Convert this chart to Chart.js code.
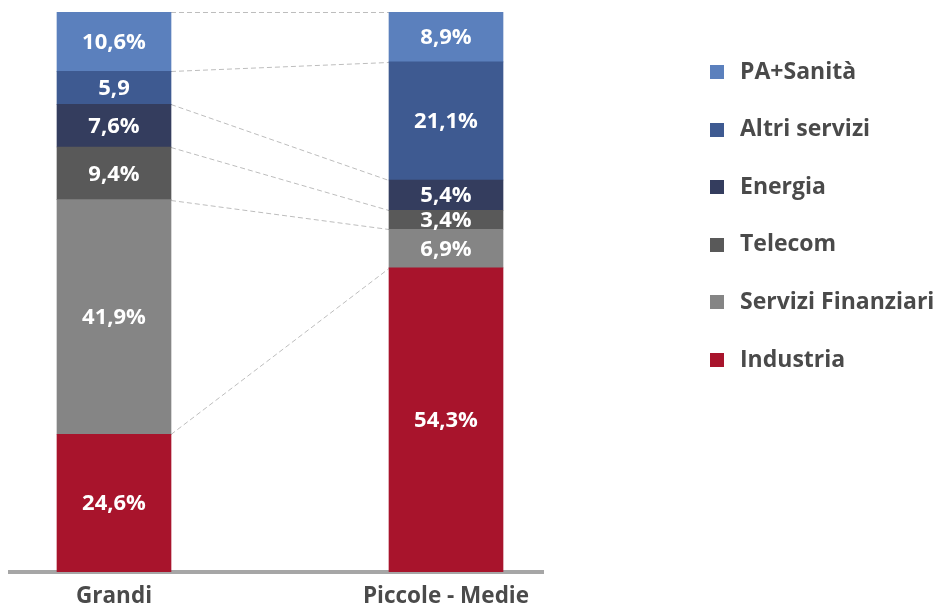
<!DOCTYPE html>
<html lang="it">
<head>
<meta charset="UTF-8">
<title>Settori per dimensione</title>
<script src="https://cdn.jsdelivr.net/npm/chart.js@4"></script>
<style>
  html, body { margin: 0; padding: 0; background: #fff; }
</style>
</head>
<body>
<canvas id="chart" width="936" height="608"></canvas>
<script>
const categories = ['Grandi', 'Piccole - Medie'];
const sectors = ['Industria', 'Servizi Finanziari', 'Telecom', 'Energia', 'Altri servizi', 'PA+Sanità'];
const grandi = [24.6, 41.9, 9.4, 7.6, 5.9, 10.6];
const piccoleMedie = [54.3, 6.9, 3.4, 5.4, 21.1, 8.9];
const colors = ['#a8142c', '#858585', '#595959', '#343d5e', '#3e5a91', '#5b80bd'];
// the source prints this one segment without the % sign: [dataset, bar]
const noPercent = [[4, 0]];

const FONT = '"Open Sans", sans-serif';
const TEXT = '#4a4a4a';

// legend geometry: swatch at x=710, text starting at x=740
const legendFont = 23, legendGap = 34.6, swatchSlot = 23;
const m = document.createElement('canvas').getContext('2d');
m.font = 'bold ' + legendFont + 'px ' + FONT;
const legendTextW = Math.max(...sectors.map(s => m.measureText(s).width));
const legendW = legendGap + swatchSlot + legendFont / 2 + legendTextW + 10;
const padRight = 936 - (740 - swatchSlot - legendFont / 2 - legendGap) - legendW;

function swatch(color) {
  const c = document.createElement('canvas');
  c.width = 14; c.height = 14;
  const g = c.getContext('2d');
  g.fillStyle = color;
  g.fillRect(0, 0, 14, 14);
  return c;
}

function fmt(v, ds, idx) {
  const s = v.toFixed(1).replace('.', ',');
  return noPercent.some(p => p[0] === ds && p[1] === idx) ? s : s + '%';
}

const barLabels = {
  id: 'barLabels',
  afterDatasetsDraw(chart) {
    const ctx = chart.ctx;
    ctx.save();
    ctx.fillStyle = '#fff';
    ctx.font = 'bold 22px ' + FONT;
    ctx.textAlign = 'center';
    ctx.textBaseline = 'middle';
    chart.data.datasets.forEach((ds, i) => {
      chart.getDatasetMeta(i).data.forEach((el, j) => {
        ctx.fillText(fmt(ds.data[j].y, i, j), el.x, (el.y + el.base) / 2 + 1);
      });
    });
    ctx.restore();
  }
};

const connectors = {
  id: 'connectors',
  beforeDatasetsDraw(chart) {
    const ctx = chart.ctx;
    ctx.save();
    ctx.strokeStyle = '#bdbdbd';
    ctx.lineWidth = 1;
    ctx.setLineDash([5, 3]);
    chart.data.datasets.forEach((ds, i) => {
      const [a, b] = chart.getDatasetMeta(i).data;
      ctx.beginPath();
      ctx.moveTo(a.x + a.width / 2, Math.round(a.y) + 0.5);
      ctx.lineTo(b.x - b.width / 2, Math.round(b.y) + 0.5);
      ctx.stroke();
    });
    ctx.restore();
  }
};

new Chart(document.getElementById('chart'), {
  type: 'bar',
  data: {
    datasets: sectors.map((s, i) => ({
      label: s,
      data: [{ x: 0, y: grandi[i] }, { x: 1, y: piccoleMedie[i] }],
      backgroundColor: colors[i],
      borderWidth: 0,
      barThickness: 114
    }))
  },
  options: {
    responsive: false,
    animation: false,
    layout: { padding: { top: 12, left: 10, right: padRight, bottom: 0 } },
    scales: {
      x: {
        type: 'linear',
        stacked: true,
        offset: false,
        min: -0.31325,
        max: 1.29217,
        z: 1,
        grid: { display: false, drawTicks: false },
        border: { display: true, color: '#a6a6a6', width: 4 },
        afterBuildTicks(s) { s.ticks = categories.map((c, i) => ({ value: i })); },
        afterFit(s) { s.height = 36; },
        ticks: {
          autoSkip: false,
          maxRotation: 0,
          padding: 11,
          color: TEXT,
          font: { family: FONT, size: 22.5, weight: 'bold' },
          callback: v => categories[v]
        }
      },
      y: {
        position: 'right',
        stacked: true,
        min: 0,
        max: 100,
        grid: { display: false },
        border: { display: false },
        ticks: { display: false },
        afterFit(s) { s.width = 936 - padRight - s.chart.legend.width - 543; }
      }
    },
    plugins: {
      tooltip: { enabled: false },
      legend: {
        position: 'right',
        align: 'start',
        reverse: true,
        maxWidth: 2000,
        title: { display: true, text: ' ', padding: 0, font: { size: 13.9, lineHeight: 1 } },
        labels: {
          color: TEXT,
          font: { family: FONT, size: legendFont, weight: 'bold' },
          padding: legendGap,
          usePointStyle: true,
          pointStyleWidth: swatchSlot,
          boxHeight: 14,
          generateLabels(chart) {
            const items = Chart.defaults.plugins.legend.labels.generateLabels(chart);
            items.forEach(it => { it.pointStyle = swatch(colors[it.datasetIndex]); });
            return items;
          }
        }
      }
    }
  },
  plugins: [connectors, barLabels]
});
</script>
</body>
</html>
